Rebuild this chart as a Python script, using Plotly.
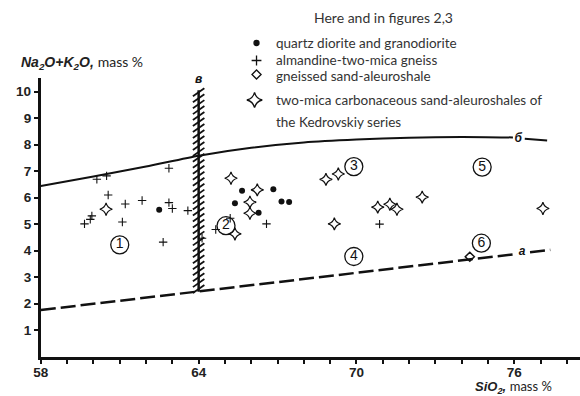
import numpy as np
import plotly.graph_objects as go

# ---------------- data ----------------
dots_x = [62.5, 65.38, 65.65, 66.28, 66.84, 67.15, 67.44]
dots_y = [5.54, 5.79, 6.26, 5.43, 6.32, 5.85, 5.83]

plus_x = [59.66, 59.88, 59.94, 60.13, 60.5, 60.56, 61.1, 61.21, 61.85, 62.65,
          62.87, 62.87, 63.0, 63.59, 64.13, 64.65, 65.2, 66.58, 70.88]
plus_y = [5.01, 5.18, 5.31, 6.69, 6.82, 6.10, 5.08, 5.76, 5.89, 4.32,
          7.11, 5.81, 5.59, 5.51, 4.47, 4.80, 5.22, 5.01, 5.00]

diamond_x = [74.31]
diamond_y = [3.77]

star_x = [60.48, 65.23, 65.38, 65.95, 65.95, 66.23, 68.84, 69.16, 69.31,
          70.81, 71.27, 71.54, 72.5, 77.09]
star_y = [5.56, 6.73, 4.63, 5.83, 5.41, 6.29, 6.69, 5.01, 6.89,
          5.64, 5.75, 5.56, 6.02, 5.59]

field_labels = ["1", "2", "3", "4", "5", "6"]
field_x = [61.0, 65.04, 69.9, 69.9, 74.78, 74.75]
field_y = [4.22, 4.94, 7.17, 3.78, 7.15, 4.28]

curve_b_x = [58, 60, 62, 64, 66, 68, 70, 72, 74, 75.95, None, 76.4, 77.25]
curve_b_y = [6.44, 6.8, 7.17, 7.58, 7.88, 8.08, 8.19, 8.26, 8.29, 8.27, None, 8.22, 8.15]

line_a_x = [58, 75.95, None, 76.6, 77.37]
line_a_y = [1.76, 3.86, None, 3.94, 4.03]

boundary_x = [64, 64]
boundary_y = [2.45, 10.05]

line_labels = ["<b><i>в</i></b>", "<b><i>б</i></b>", "<b><i>a</i></b>"]
line_label_x = [64.0, 76.15, 76.3]
line_label_y = [10.45, 8.22, 3.95]

x_tick_vals = list(range(58, 79))
x_tick_text = ["<b>%d</b>" % v if v in (58, 64, 70, 76) else "" for v in x_tick_vals]
y_tick_vals = list(range(1, 11))
y_tick_text = ["<b>%d</b>" % v for v in y_tick_vals]

legend_title = "Here and in figures 2,3"
legend_texts = ["quartz diorite and granodiorite",
                "almandine-two-mica gneiss",
                "gneissed sand-aleuroshale",
                "two-mica carbonaceous sand-aleuroshales of",
                "the Kedrovskiy series"]

# --------------- figure ---------------
W, H = 580, 396
X0, X1, Y0, Y1 = 33.3, 580, 356.7, 78.3  # plot area px

TXT = "Lato, Open Sans, sans-serif"
NUM = "Arial, Liberation Sans, sans-serif"
INK = "#111"

fig = go.Figure()

# boundary line a (dashed)
fig.add_trace(go.Scatter(x=line_a_x, y=line_a_y, mode="lines",
                         line=dict(color=INK, width=2.5, dash="15px,5px"),
                         hoverinfo="skip", showlegend=False))
# boundary line b (solid)
fig.add_trace(go.Scatter(x=curve_b_x, y=curve_b_y, mode="lines",
                         line=dict(color=INK, width=2, shape="spline", smoothing=0.6),
                         hoverinfo="skip", showlegend=False))
# hatched boundary в
fig.add_trace(go.Scatter(x=boundary_x, y=boundary_y, mode="lines",
                         line=dict(color=INK, width=2.5),
                         hoverinfo="skip", showlegend=False))
hy = np.arange(boundary_y[0] + 0.1, boundary_y[1], 0.225)
fig.add_trace(go.Scatter(x=[boundary_x[0]] * len(hy), y=hy, mode="markers",
                         marker=dict(symbol="line-ew", size=10, angle=-35, color=INK,
                                     line=dict(color=INK, width=1.8)),
                         hoverinfo="skip", showlegend=False))

# data points
fig.add_trace(go.Scatter(x=dots_x, y=dots_y, mode="markers",
                         marker=dict(symbol="circle", size=6, color=INK),
                         showlegend=False))
fig.add_trace(go.Scatter(x=plus_x, y=plus_y, mode="markers",
                         marker=dict(symbol="cross-thin-open", size=6, color=INK,
                                     line=dict(color=INK, width=1.1)),
                         showlegend=False))
fig.add_trace(go.Scatter(x=diamond_x, y=diamond_y, mode="markers",
                         marker=dict(symbol="diamond-open", size=7, color=INK,
                                     line=dict(color=INK, width=1.5)),
                         showlegend=False))
fig.add_trace(go.Scatter(x=star_x, y=star_y, mode="markers",
                         marker=dict(symbol="star-diamond-open", size=9, color=INK,
                                     line=dict(color=INK, width=1.2)),
                         showlegend=False))

# numbered fields
fig.add_trace(go.Scatter(x=field_x, y=field_y, mode="markers+text",
                         text=field_labels, textposition="middle center",
                         textfont=dict(family=NUM, size=14, color=INK),
                         marker=dict(symbol="circle-open", size=18, color=INK,
                                     line=dict(color=INK, width=1.3)),
                         cliponaxis=False, hoverinfo="skip", showlegend=False))

# line labels
fig.add_trace(go.Scatter(x=line_label_x, y=line_label_y, mode="text",
                         text=line_labels, textposition="middle center",
                         textfont=dict(family=NUM, size=12, color=INK),
                         cliponaxis=False, hoverinfo="skip", showlegend=False))

# ------- manual legend on a full-figure pixel overlay -------
leg_sym_x = [252, 252, 252, 250]
leg_sym_y = [43, 60.5, 74.5, 100]
leg_syms = ["circle", "cross-thin-open", "diamond-open", "star-diamond-open"]
leg_sizes = [5, 7, 7, 11]
for sx, sy, sym, sz in zip(leg_sym_x, leg_sym_y, leg_syms, leg_sizes):
    fig.add_trace(go.Scatter(x=[sx], y=[sy], xaxis="x2", yaxis="y2", mode="markers",
                             marker=dict(symbol=sym, size=sz, color=INK,
                                         line=dict(color=INK, width=1.3)),
                             hoverinfo="skip", showlegend=False))

ann = []
ann.append(dict(x=381 / W, y=1 - 17 / H, xref="paper", yref="paper", text=legend_title,
                showarrow=False, xanchor="center", yanchor="middle",
                font=dict(family=TXT, size=14, color="#333")))
for t, ty in zip(legend_texts, [43, 60, 76, 100, 121.5]):
    ann.append(dict(x=270 / W, y=1 - ty / H, xref="paper", yref="paper", text=t,
                    showarrow=False, xanchor="left", yanchor="middle",
                    font=dict(family=TXT, size=13.5, color="#333")))
# axis titles
ann.append(dict(x=11 / W, y=1 - 63 / H, xref="paper", yref="paper",
                text="<b><i>Na<sub>2</sub>O+K<sub>2</sub>O,</i></b> "
                     "<span style='font-family:Lato'>mass %</span>",
                showarrow=False, xanchor="left", yanchor="middle",
                font=dict(family=NUM, size=14, color="#222")))
ann.append(dict(x=471 / W, y=1 - 387 / H, xref="paper", yref="paper",
                text="<b><i>SiO<sub>2</sub>,</i></b> "
                     "<span style='font-family:Lato'>mass %</span>",
                showarrow=False, xanchor="left", yanchor="middle",
                font=dict(family=NUM, size=13, color="#222")))

fig.update_layout(
    width=W, height=H,
    margin=dict(l=0, r=0, t=0, b=0, pad=0),
    paper_bgcolor="white", plot_bgcolor="rgba(0,0,0,0)",
    xaxis=dict(domain=[X0 / W, X1 / W], range=[58, 78.5], showgrid=False, zeroline=False,
               showline=True, linecolor=INK, linewidth=2.5,
               ticks="outside", ticklen=5, tickwidth=1.5, tickcolor=INK,
               tickvals=x_tick_vals, ticktext=x_tick_text, ticklabelstandoff=-4,
               tickfont=dict(family=NUM, size=13.5, color="#222"),
               anchor="y", fixedrange=True),
    yaxis=dict(domain=[1 - Y0 / H, 1 - Y1 / H], range=[0, 10.5], showgrid=False, zeroline=False,
               showline=True, linecolor=INK, linewidth=3,
               ticks="outside", ticklen=4, tickwidth=1.5, tickcolor=INK,
               tickvals=y_tick_vals, ticktext=y_tick_text,
               tickfont=dict(family=NUM, size=13.5, color="#222"),
               anchor="x", fixedrange=True),
    xaxis2=dict(domain=[0, 1], range=[0, W], visible=False, anchor="y2", fixedrange=True),
    yaxis2=dict(domain=[0, 1], range=[H, 0], visible=False, anchor="x2", fixedrange=True),
    annotations=ann,
    showlegend=False,
)

fig.write_html("out.html")
